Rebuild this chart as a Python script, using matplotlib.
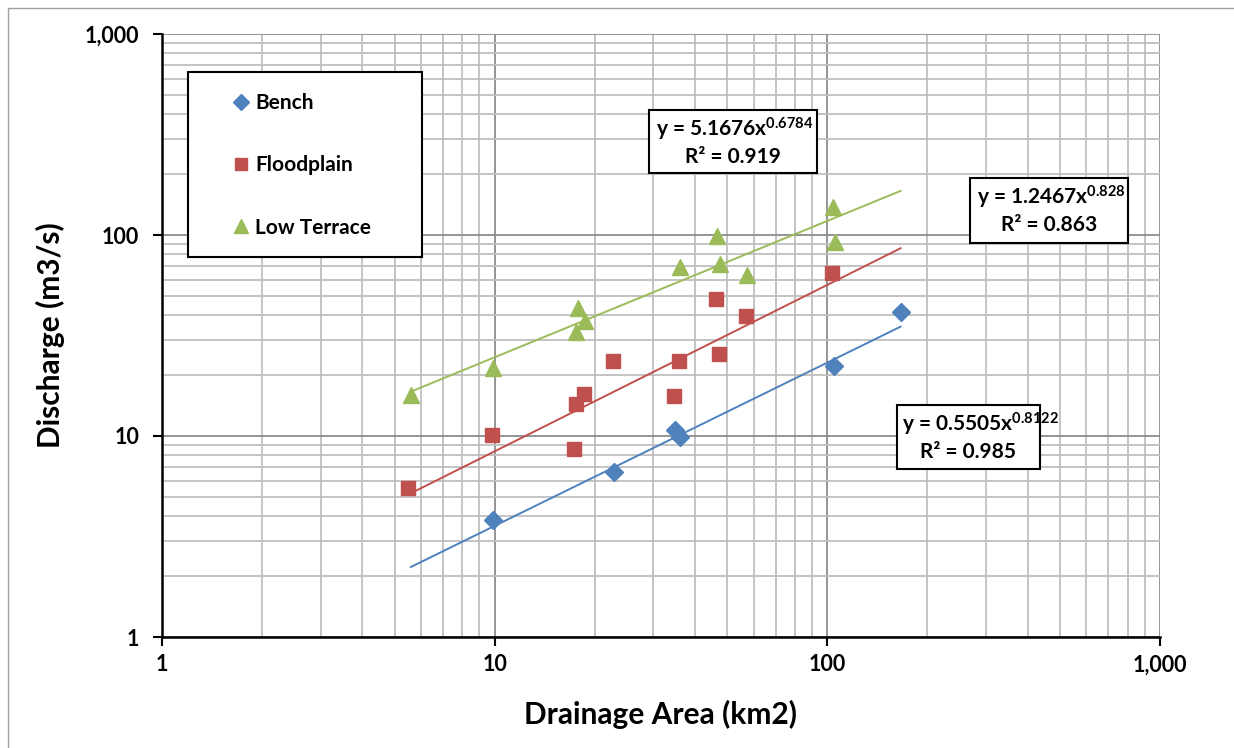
import matplotlib
matplotlib.use("Agg")
import matplotlib.pyplot as plt
import numpy as np
from matplotlib.patches import Rectangle
from matplotlib.lines import Line2D

plt.rcParams['font.family'] = ['Lato', 'DejaVu Sans']
plt.rcParams['font.weight'] = 'bold'
plt.rcParams['mathtext.fontset'] = 'custom'
plt.rcParams['mathtext.rm'] = 'Lato:bold'
plt.rcParams['mathtext.it'] = 'Lato:bold'
plt.rcParams['mathtext.bf'] = 'Lato:bold'

# ---- data ----
bench_x = [9.9, 22.9, 34.9, 36.1, 104.8, 166]
bench_y = [3.8, 6.6, 10.7, 9.9, 22.3, 41.5]

flood_x = [5.5, 9.8, 17.3, 17.6, 18.5, 22.7, 34.5, 35.7, 46.2, 47.3, 56.9, 103.3]
flood_y = [5.5, 10.1, 8.6, 14.5, 16.1, 23.6, 15.8, 23.6, 48.1, 25.7, 39.5, 64.9]

terr_x = [5.6, 9.9, 17.8, 18.7, 17.6, 36.1, 46.7, 47.7, 57.3, 104.3, 105.6]
terr_y = [16.0, 21.7, 43.2, 37.3, 33.0, 69.1, 98.9, 71.5, 63.2, 138, 92.6]

series_names = ['Bench', 'Floodplain', 'Low Terrace']
fit_a = [0.5505, 1.2467, 5.1676]
fit_b = [0.8122, 0.828, 0.6784]
fit_r2 = ['0.985', '0.863', '0.919']
fit_b_txt = ['0.8122', '0.828', '0.6784']
fit_a_txt = ['0.5505', '1.2467', '5.1676']
trend_xmin, trend_xmax = 5.6, 166

tick_vals = [1, 10, 100, 1000]
tick_labels = ['1', '10', '100', '1,000']

colors = ['#4F81BD', '#C0504D', '#9BBB59']
markers = ['D', 's', '^']
msizes = [9.5, 10.5, 11.5]

W, H = 1234, 748
fig = plt.figure(figsize=(W / 100, H / 100), dpi=100)

def fx(px):
    return px / W

def fy(py):
    return 1 - py / H

L, R, T, B = 162, 1160, 34, 637
ax = fig.add_axes([fx(L), fy(B), fx(R) - fx(L), fy(T) - fy(B)])
ax.set_xscale('log')
ax.set_yscale('log')
ax.set_xlim(1, 1000)
ax.set_ylim(1, 1000)

ax.grid(True, which='minor', color='#BFBFBF', lw=1.3)
ax.grid(True, which='major', color='#8C8C8C', lw=1.3)
ax.set_axisbelow(True)

ax.set_xticks(tick_vals)
ax.set_xticklabels(tick_labels)
ax.set_yticks(tick_vals)
ax.set_yticklabels(tick_labels)
ax.tick_params(which='major', length=6.5, width=1.5, direction='out', labelsize=15.5)
ax.tick_params(which='minor', length=0)
ax.tick_params(axis='x', pad=6)
ax.tick_params(axis='y', pad=10)
for lab in ax.get_xticklabels() + ax.get_yticklabels():
    lab.set_fontweight('bold')

for s in ['top', 'right']:
    ax.spines[s].set_visible(False)
for s in ['left', 'bottom']:
    ax.spines[s].set_linewidth(1.8)
    ax.spines[s].set_color('black')

data = [(bench_x, bench_y), (flood_x, flood_y), (terr_x, terr_y)]
xt = np.logspace(np.log10(trend_xmin), np.log10(trend_xmax), 100)
handles = []
for i, (xs, ys) in enumerate(data):
    ax.plot(xt, fit_a[i] * xt ** fit_b[i], color=colors[i], lw=1.4, zorder=3)
    ax.plot(xs, ys, linestyle='none', marker=markers[i], ms=msizes[i],
            color=colors[i], mec=colors[i], zorder=4)
    handles.append(Line2D([], [], linestyle='none', marker=markers[i],
                          ms=msizes[i] * 0.85, color=colors[i]))

ax.set_xlabel('Drainage Area (km2)', fontsize=21.5, fontweight='bold', labelpad=18)
ax.set_ylabel('Discharge (m3/s)', fontsize=21.5, fontweight='bold', labelpad=14)

# legend box
fig.patches.append(Rectangle((fx(188), fy(257)), fx(422) - fx(188), fy(72) - fy(257),
                             transform=fig.transFigure, facecolor='white',
                             edgecolor='black', lw=1.5, zorder=5))
leg = fig.legend(handles, series_names, loc='upper left',
                 bbox_to_anchor=(fx(228), fy(93)), frameon=False,
                 fontsize=15, labelspacing=2.03, handletextpad=0.1,
                 handlelength=1.2, borderpad=0, borderaxespad=0)
leg.set_zorder(6)
for t in leg.get_texts():
    t.set_fontweight('bold')

# equation boxes (bench, floodplain, low terrace)
boxes = [(897, 405, 1040, 469), (970, 178, 1128, 243), (649, 110, 817, 173)]
for i, (x0, y0, x1, y1) in enumerate(boxes):
    fig.patches.append(Rectangle((fx(x0), fy(y1)), fx(x1) - fx(x0), fy(y0) - fy(y1),
                                 transform=fig.transFigure, facecolor='white',
                                 edgecolor='black', lw=1.5, zorder=5))
    cx = (x0 + x1) / 2
    eq = 'y = ' + fit_a_txt[i] + 'x$^{' + fit_b_txt[i] + '}$'
    if i == 0:
        fig.text(fx(x0 + 5), fy(y0 + 19), eq, ha='left', va='center',
                 fontsize=15, fontweight='bold', zorder=6)
    else:
        fig.text(fx(cx + 2), fy(y0 + 19), eq, ha='center', va='center',
                 fontsize=15, fontweight='bold', zorder=6)
    fig.text(fx(cx), fy(y0 + 47), 'R² = ' + fit_r2[i],
             ha='center', va='center', fontsize=15, fontweight='bold', zorder=6)

# chart outer border
fig.patches.append(Rectangle((fx(8), fy(760)), fx(1260), fy(8) - fy(760),
                             transform=fig.transFigure, facecolor='none',
                             edgecolor='#A0A0A0', lw=1.0, zorder=1))

fig.savefig('out.png', dpi=100)
